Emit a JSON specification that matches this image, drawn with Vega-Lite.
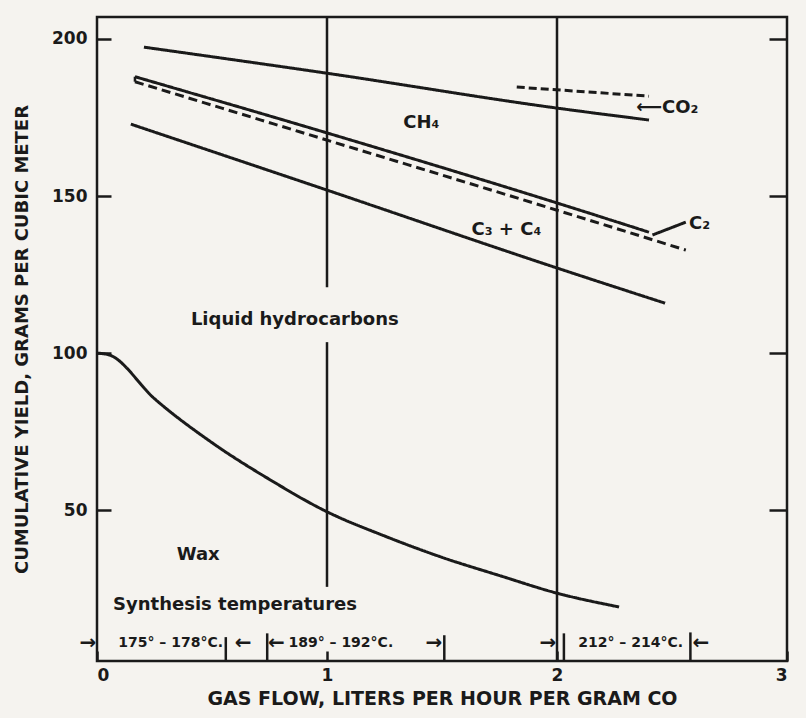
{
  "$schema": "https://vega.github.io/schema/vega-lite/v6.json",
  "width": 690,
  "height": 644,
  "autosize": {"type": "none"},
  "padding": {"left": 97, "top": 17, "right": 19, "bottom": 57},
  "background": "#f5f3ef",
  "config": {
    "view": {"stroke": "#1a1a1a", "strokeWidth": 2.5},
    "font": "DejaVu Sans",
    "axis": {
      "domain": false,
      "grid": false,
      "labelFont": "DejaVu Sans",
      "labelFontWeight": "bold",
      "labelColor": "#1a1a1a",
      "tickColor": "#1a1a1a",
      "tickWidth": 2.5,
      "titleFont": "DejaVu Sans",
      "titleFontWeight": "bold",
      "titleColor": "#1a1a1a"
    }
  },
  "datasets": {
    "lines": [
      {"series": "CH4", "x": 0.204, "y": 197.4},
      {"series": "CH4", "x": 1.0, "y": 189.1},
      {"series": "CH4", "x": 2.0, "y": 178.0},
      {"series": "CH4", "x": 2.40, "y": 174.2},
      {"series": "CO2", "x": 1.825, "y": 184.7},
      {"series": "CO2", "x": 2.40, "y": 181.8},
      {"series": "C2", "x": 0.165, "y": 188.0},
      {"series": "C2", "x": 1.0, "y": 170.1},
      {"series": "C2", "x": 2.0, "y": 147.8},
      {"series": "C2", "x": 2.40, "y": 138.5},
      {"series": "C3+C4", "x": 0.165, "y": 186.4},
      {"series": "C3+C4", "x": 1.0, "y": 167.8},
      {"series": "C3+C4", "x": 2.0, "y": 145.5},
      {"series": "C3+C4", "x": 2.56, "y": 132.8},
      {"series": "Liquid hydrocarbons", "x": 0.147, "y": 172.9},
      {"series": "Liquid hydrocarbons", "x": 1.0, "y": 151.9},
      {"series": "Liquid hydrocarbons", "x": 2.0, "y": 127.1},
      {"series": "Liquid hydrocarbons", "x": 2.47, "y": 115.9},
      {"series": "Wax", "x": 0.0, "y": 100.0},
      {"series": "Wax", "x": 0.05, "y": 99.5},
      {"series": "Wax", "x": 0.25, "y": 85.5},
      {"series": "Wax", "x": 0.5, "y": 71.5},
      {"series": "Wax", "x": 0.75, "y": 59.8},
      {"series": "Wax", "x": 1.0, "y": 49.5},
      {"series": "Wax", "x": 1.25, "y": 41.8},
      {"series": "Wax", "x": 1.5, "y": 35.0},
      {"series": "Wax", "x": 1.75, "y": 29.2},
      {"series": "Wax", "x": 2.0, "y": 23.6},
      {"series": "Wax", "x": 2.27, "y": 19.2},
      {"series": "C2 leader", "x": 2.415, "y": 137.6},
      {"series": "C2 leader", "x": 2.56, "y": 141.7}
    ],
    "rules": [
      {"x": 1, "y": 121, "y2": 207},
      {"x": 1, "y": 25.6, "y2": 103.5},
      {"x": 2, "y": 2, "y2": 207},
      {"x": 0.56, "y": 2, "y2": 9.6},
      {"x": 0.74, "y": 2, "y2": 10.8},
      {"x": 1.51, "y": 2, "y2": 10.2},
      {"x": 2.03, "y": 2, "y2": 10.8},
      {"x": 2.58, "y": 2, "y2": 11.1},
      {"x": 0.165, "y": 186.4, "y2": 188.0}
    ],
    "labels": [
      {"text": "CH₄", "x": 1.41, "y": 173.2},
      {"text": "C₃ + C₄", "x": 1.78, "y": 139.2},
      {"text": "Liquid hydrocarbons", "x": 0.86, "y": 110.5},
      {"text": "Wax", "x": 0.44, "y": 35.7},
      {"text": "Synthesis temperatures", "x": 0.6, "y": 19.7},
      {"text": "⟵CO₂", "x": 2.48, "y": 178},
      {"text": "C₂", "x": 2.62, "y": 141}
    ],
    "temps": [
      {"text": "175° – 178°C.", "x": 0.32, "y": 7.6},
      {"text": "189° – 192°C.", "x": 1.06, "y": 7.6},
      {"text": "212° – 214°C.", "x": 2.32, "y": 7.6}
    ],
    "arrows": [
      {"text": "→", "x": -0.04, "y": 7.8},
      {"text": "←", "x": 0.635, "y": 7.8},
      {"text": "←", "x": 0.78, "y": 7.8},
      {"text": "→", "x": 1.465, "y": 7.8},
      {"text": "→", "x": 1.96, "y": 7.8},
      {"text": "←", "x": 2.625, "y": 7.8}
    ]
  },
  "layer": [
    {
      "data": {"name": "lines"},
      "mark": {"type": "line", "interpolate": "monotone", "strokeWidth": 3, "color": "#1a1a1a", "clip": false},
      "encoding": {
        "x": {
          "field": "x", "type": "quantitative",
          "scale": {"domain": [0, 3], "nice": false, "zero": false},
          "axis": {
            "values": [0, 1, 2, 3], "format": "d", "tickSize": -10, "labelPadding": 16,
            "labelFontSize": 17, "title": "GAS FLOW, LITERS PER HOUR PER GRAM CO",
            "titleFontSize": 19, "titlePadding": 6
          }
        },
        "y": {
          "field": "y", "type": "quantitative",
          "scale": {"domain": [2, 207], "nice": false, "zero": false},
          "axis": {
            "orient": "left", "values": [50, 100, 150, 200], "tickSize": -14, "labelPadding": 24,
            "labelFontSize": 17, "title": "CUMULATIVE YIELD, GRAMS PER CUBIC METER",
            "titleFontSize": 18, "titlePadding": 20
          }
        },
        "detail": {"field": "series", "type": "nominal"},
        "strokeDash": {
          "field": "series", "type": "nominal", "legend": null,
          "scale": {
            "domain": ["CH4", "CO2", "C2", "C3+C4", "Liquid hydrocarbons", "Wax", "C2 leader"],
            "range": [[1, 0], [8, 4], [1, 0], [9, 5], [1, 0], [1, 0], [1, 0]]
          }
        }
      }
    },
    {
      "data": {"name": "rules"},
      "mark": {"type": "rule", "strokeWidth": 2.5, "color": "#1a1a1a"},
      "encoding": {
        "x": {"field": "x", "type": "quantitative"},
        "y": {
          "field": "y", "type": "quantitative",
          "axis": {"orient": "right", "values": [50, 100, 150, 200], "tickSize": -18, "labels": false, "title": null}
        },
        "y2": {"field": "y2"}
      }
    },
    {
      "data": {"name": "labels"},
      "mark": {"type": "text", "font": "DejaVu Sans", "fontWeight": "bold", "fontSize": 18, "color": "#1a1a1a", "align": "center", "baseline": "middle"},
      "encoding": {
        "x": {"field": "x", "type": "quantitative"},
        "y": {"field": "y", "type": "quantitative", "axis": null},
        "text": {"field": "text"}
      }
    },
    {
      "data": {"name": "temps"},
      "mark": {"type": "text", "font": "DejaVu Sans", "fontWeight": "bold", "fontSize": 14, "color": "#1a1a1a", "align": "center", "baseline": "middle"},
      "encoding": {
        "x": {"field": "x", "type": "quantitative"},
        "y": {"field": "y", "type": "quantitative", "axis": null},
        "text": {"field": "text"}
      }
    },
    {
      "data": {"name": "arrows"},
      "mark": {"type": "text", "font": "DejaVu Sans", "fontWeight": "bold", "fontSize": 20, "color": "#1a1a1a", "align": "center", "baseline": "middle"},
      "encoding": {
        "x": {"field": "x", "type": "quantitative"},
        "y": {"field": "y", "type": "quantitative", "axis": null},
        "text": {"field": "text"}
      }
    }
  ],
  "resolve": {"axis": {"y": "independent"}}
}
